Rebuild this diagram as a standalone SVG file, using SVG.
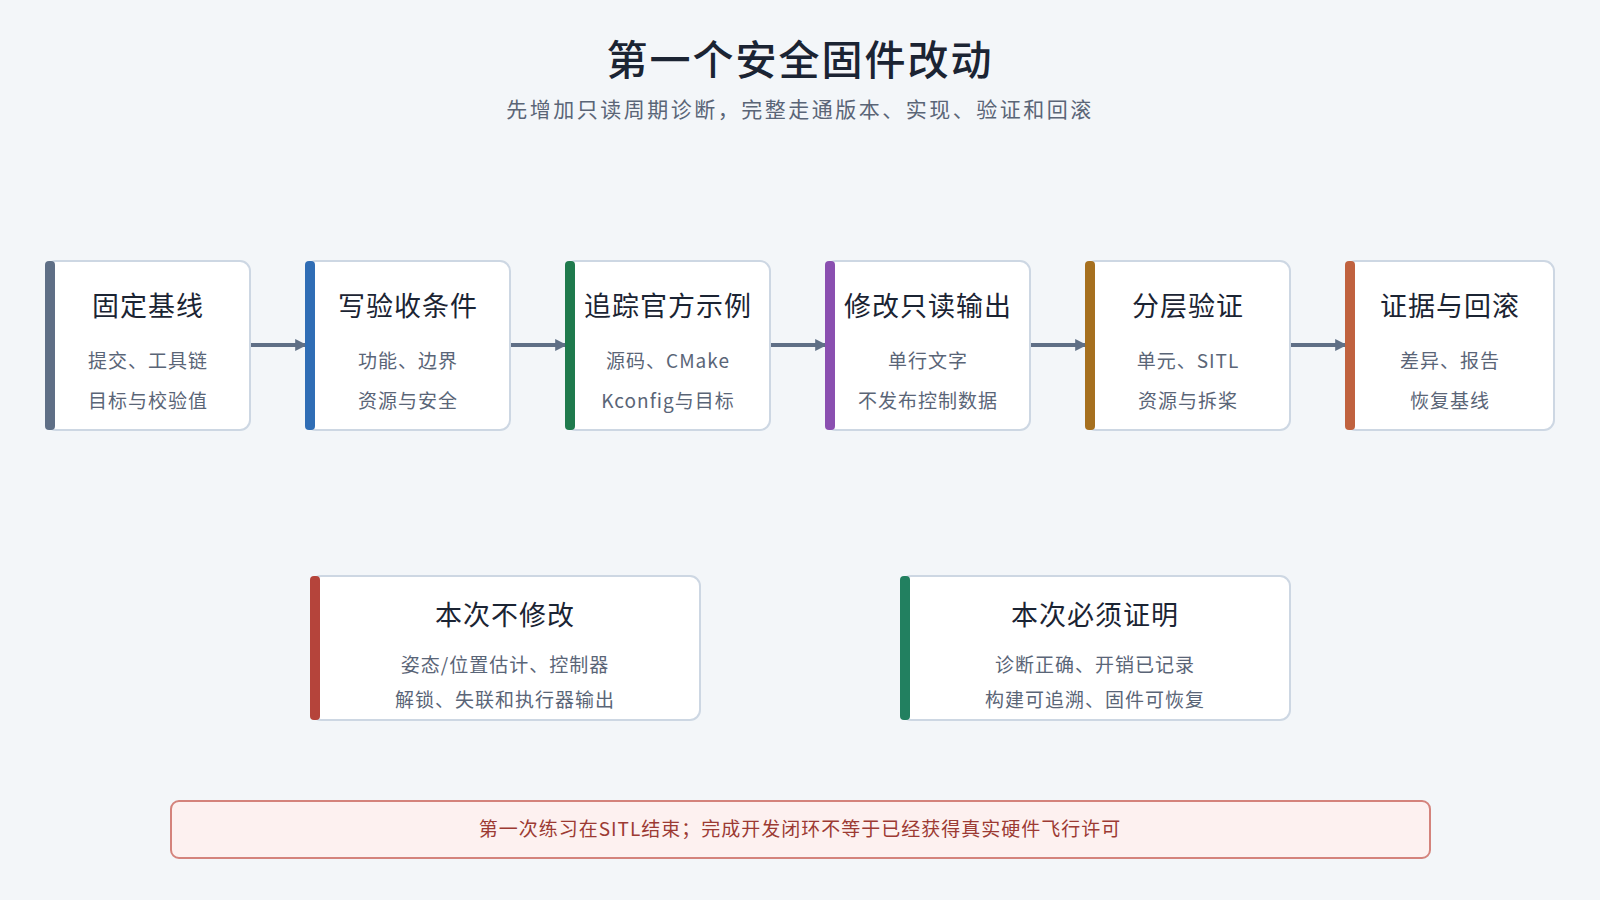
<svg xmlns="http://www.w3.org/2000/svg" width="1600" height="900" viewBox="0 0 1600 900">
<defs>
<marker id="ah" viewBox="0 0 10 10" refX="9" refY="5" markerWidth="3" markerHeight="3" orient="auto"><path d="M0,0L10,5L0,10z" fill="#5f6f86"/></marker>
<style>
text{font-family:"Noto Sans CJK SC","Noto Sans",sans-serif;text-anchor:middle}
.box{fill:#fff;stroke:#cdd7e3;stroke-width:2}
.t{font-size:27px;fill:#1b2433;letter-spacing:1px}
.s{font-size:19px;fill:#5a6577;letter-spacing:1px}
.c{stroke:#5f6f86;stroke-width:4;fill:none;marker-end:url(#ah)}
</style>
</defs>
<rect width="1600" height="900" fill="#f3f6f9"/>
<text x="800" y="75" font-size="41" fill="#1b2433" font-weight="500" letter-spacing="2">第一个安全固件改动</text>
<text x="800" y="117" font-size="21" fill="#5a6577" letter-spacing="2.5">先增加只读周期诊断，完整走通版本、实现、验证和回滚</text>
<g id="connectors">
<path class="c" d="M250,345H306"/><path class="c" d="M510,345H566"/><path class="c" d="M770,345H826"/><path class="c" d="M1030,345H1086"/><path class="c" d="M1290,345H1346"/>
</g>
<g id="n1"><rect class="box" x="46" y="261" width="204" height="169" rx="10"/><rect x="45" y="261" width="10" height="169" rx="4" fill="#5f6f86"/><text class="t" x="148" y="316">固定基线</text><text class="s" x="148" y="368">提交、工具链</text><text class="s" x="148" y="408">目标与校验值</text></g>
<g id="n2"><rect class="box" x="306" y="261" width="204" height="169" rx="10"/><rect x="305" y="261" width="10" height="169" rx="4" fill="#2f6db5"/><text class="t" x="408" y="316">写验收条件</text><text class="s" x="408" y="368">功能、边界</text><text class="s" x="408" y="408">资源与安全</text></g>
<g id="n3"><rect class="box" x="566" y="261" width="204" height="169" rx="10"/><rect x="565" y="261" width="10" height="169" rx="4" fill="#1f7a4d"/><text class="t" x="668" y="316">追踪官方示例</text><text class="s" x="668" y="368">源码、CMake</text><text class="s" x="668" y="408">Kconfig与目标</text></g>
<g id="n4"><rect class="box" x="826" y="261" width="204" height="169" rx="10"/><rect x="825" y="261" width="10" height="169" rx="4" fill="#8a4fb0"/><text class="t" x="928" y="316">修改只读输出</text><text class="s" x="928" y="368">单行文字</text><text class="s" x="928" y="408">不发布控制数据</text></g>
<g id="n5"><rect class="box" x="1086" y="261" width="204" height="169" rx="10"/><rect x="1085" y="261" width="10" height="169" rx="4" fill="#a6701f"/><text class="t" x="1188" y="316">分层验证</text><text class="s" x="1188" y="368">单元、SITL</text><text class="s" x="1188" y="408">资源与拆桨</text></g>
<g id="n6"><rect class="box" x="1346" y="261" width="208" height="169" rx="10"/><rect x="1345" y="261" width="10" height="169" rx="4" fill="#c0623f"/><text class="t" x="1450" y="316">证据与回滚</text><text class="s" x="1450" y="368">差异、报告</text><text class="s" x="1450" y="408">恢复基线</text></g>
<g id="n7"><rect class="box" x="311" y="576" width="389" height="144" rx="10"/><rect x="310" y="576" width="10" height="144" rx="4" fill="#b5443b"/><text class="t" x="505" y="625">本次不修改</text><text class="s" x="505" y="672">姿态/位置估计、控制器</text><text class="s" x="505" y="707">解锁、失联和执行器输出</text></g>
<g id="n8"><rect class="box" x="901" y="576" width="389" height="144" rx="10"/><rect x="900" y="576" width="10" height="144" rx="4" fill="#228060"/><text class="t" x="1095" y="625">本次必须证明</text><text class="s" x="1095" y="672">诊断正确、开销已记录</text><text class="s" x="1095" y="707">构建可追溯、固件可恢复</text></g>
<g id="note"><rect x="171" y="801" width="1259" height="57" rx="8" fill="#fdf1f0" stroke="#d4837c" stroke-width="2"/><text x="800" y="836" font-size="19" fill="#9c3a33" letter-spacing="1">第一次练习在SITL结束；完成开发闭环不等于已经获得真实硬件飞行许可</text></g>
</svg>
